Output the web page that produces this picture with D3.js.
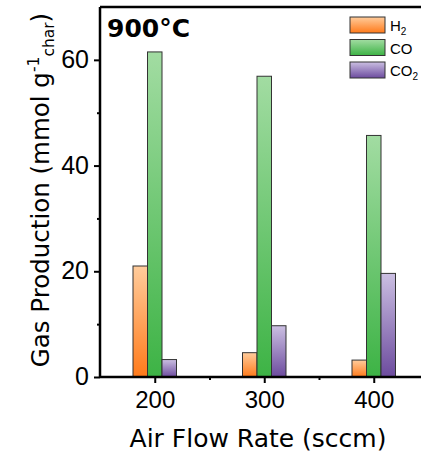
<!DOCTYPE html>
<html><head><meta charset="utf-8">
<script src="https://cdn.jsdelivr.net/npm/d3@7"></script>
<style>body{margin:0;background:#fff}svg{display:block}</style>
</head><body>
<svg id="c" width="421" height="457"></svg>
<script>
const categories = [200, 300, 400];
const seriesNames = ["H2", "CO", "CO2"];
const h2 = [21.0, 4.6, 3.2];
const co = [61.5, 56.9, 45.7];
const co2 = [3.3, 9.7, 19.6];
const yTicks = [0, 20, 40, 60];
const yMinor = [10, 30, 50];
const xMinor = [250, 350];
const seriesValues = [h2, co, co2];

const svg = d3.select("#c");
const x = d3.scaleLinear().domain([150, 450]).range([100, 428.5]);
const y = d3.scaleLinear().domain([0, 70]).range([377, 7]);
const barW = 14.5;

const grads = [
  ["#ffcc9c", "#ff7a1a"],
  ["#a2dca2", "#3db345"],
  ["#cbbfe2", "#6c4b9e"]
];
const defs = svg.append("defs");
grads.forEach((g, i) => {
  const lg = defs.append("linearGradient").attr("id", "g" + i)
    .attr("x1", 0).attr("y1", 0).attr("x2", 0).attr("y2", 1);
  lg.append("stop").attr("offset", "0%").attr("stop-color", g[0]);
  lg.append("stop").attr("offset", "100%").attr("stop-color", g[1]);
});

// bars
seriesValues.forEach((vals, si) => {
  svg.append("g").selectAll("rect").data(vals).join("rect")
    .attr("x", (d, i) => x(categories[i]) + (si - 1.5) * barW)
    .attr("y", d => y(d))
    .attr("width", barW)
    .attr("height", d => y(0) - y(d))
    .attr("fill", `url(#g${si})`)
    .attr("stroke", "#333")
    .attr("stroke-width", 1);
});

// axes
const yAxis = svg.append("g").attr("transform", "translate(100,0)")
  .call(d3.axisLeft(y).tickValues(yTicks).tickSize(6).tickPadding(5).tickFormat(d3.format("d")));
yAxis.selectAll(".tick text").attr("font-family", "Liberation Sans, Arial, sans-serif").attr("font-size", 25).attr("fill", "#000").attr("dy", "0.3em");
svg.append("g").attr("transform", "translate(100,0)")
  .call(d3.axisLeft(y).tickValues(yMinor).tickSize(3).tickFormat(""))
  .call(g => g.select(".domain").remove());

const xAxis = svg.append("g").attr("transform", "translate(0,377)")
  .call(d3.axisBottom(x).tickValues(categories).tickSize(6).tickPadding(8).tickFormat(d3.format("d")));
xAxis.selectAll(".tick text").attr("font-family", "Liberation Sans, Arial, sans-serif").attr("font-size", 24).attr("fill", "#000");
svg.append("g").attr("transform", "translate(0,377)")
  .call(d3.axisBottom(x).tickValues(xMinor).tickSize(3).tickFormat(""))
  .call(g => g.select(".domain").remove());

svg.selectAll(".domain").attr("stroke", "#000").attr("stroke-width", 2.5);
svg.selectAll(".tick line").attr("stroke", "#000").attr("stroke-width", 2);
yAxis.select(".domain").attr("d", `M0,${y(0) + 1}V${y(70)}`);
xAxis.select(".domain").attr("d", `M${x(150)},0H${x(450)}`);

// top border
svg.append("line").attr("x1", x(150)).attr("x2", x(450)).attr("y1", y(70)).attr("y2", y(70))
  .attr("stroke", "#000").attr("stroke-width", 2.5);

// title
svg.append("text").attr("x", 107).attr("y", 37)
  .attr("font-family", "DejaVu Sans, sans-serif").attr("font-weight", "bold").attr("font-size", 25).attr("fill", "#000")
  .text("900°C");

// legend
const leg = svg.append("g").attr("transform", "translate(350,17)");
seriesNames.forEach((n, i) => {
  const g = leg.append("g").attr("transform", `translate(0,${i * 22.5})`);
  g.append("rect").attr("width", 35).attr("height", 16).attr("fill", `url(#g${i})`)
    .attr("stroke", "#333").attr("stroke-width", 1);
  const tx = g.append("text").attr("x", 40).attr("y", 14)
    .attr("font-family", "Liberation Sans, Arial, sans-serif").attr("font-size", 15).attr("fill", "#000");
  if (n === "CO") tx.text("CO");
  else {
    tx.append("tspan").text(n.slice(0, -1));
    tx.append("tspan").attr("font-size", 10).attr("dy", 4).text(n.slice(-1));
  }
});

// y label
const yl = svg.append("text").attr("transform", "translate(49,190) rotate(-90)")
  .attr("text-anchor", "middle").attr("font-family", "DejaVu Sans, sans-serif")
  .attr("font-size", 24.5).attr("fill", "#000");
yl.append("tspan").text("Gas Production (mmol g");
yl.append("tspan").attr("font-size", 15.5).attr("dy", -10).text("-1");
yl.append("tspan").attr("font-size", 15.5).attr("dy", 15).text("char");
yl.append("tspan").attr("dy", -5).text(")");

// x label
svg.append("text").attr("x", 258).attr("y", 447).attr("text-anchor", "middle")
  .attr("font-family", "DejaVu Sans, sans-serif").attr("font-size", 25).attr("fill", "#000")
  .text("Air Flow Rate (sccm)");
</script>
</body></html>
